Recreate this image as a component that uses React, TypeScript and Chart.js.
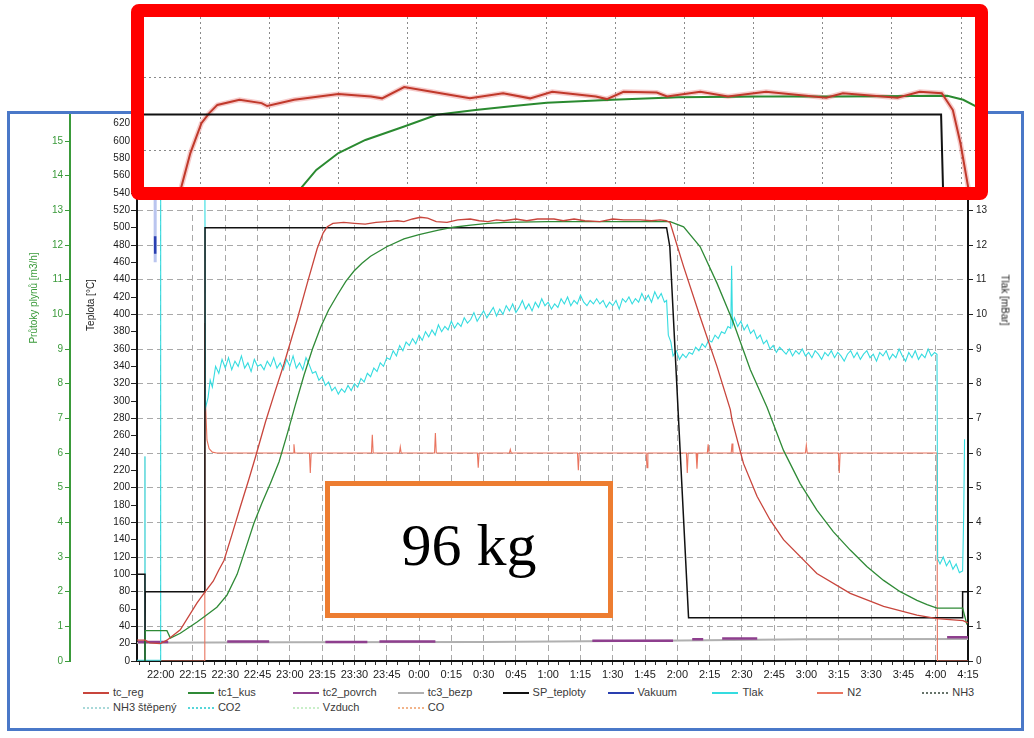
import { useEffect, useRef } from "react";
import Chart from "chart.js/auto";

// x values are minutes after 22:00
const timeLabels = [
  "22:00", "22:15", "22:30", "22:45", "23:00", "23:15", "23:30", "23:45",
  "0:00", "0:15", "0:30", "0:45", "1:00", "1:15", "1:30", "1:45",
  "2:00", "2:15", "2:30", "2:45", "3:00", "3:15", "3:30", "3:45", "4:00", "4:15",
];

const seriesNames = [
  "tc_reg", "tc1_kus", "tc2_povrch", "tc3_bezp", "SP_teploty", "Vakuum", "Tlak", "N2", "NH3",
  "NH3 štěpený", "CO2", "Vzduch", "CO",
];
const seriesColors = [
  "#c8453c", "#2f8a36", "#8e3f8e", "#b0b0b0", "#111111", "#2a3fb0", "#35dce0", "#e9745f", "#66736a",
  "#a9d9d9", "#56d6d9", "#c9efc9", "#f2b48a",
];
const legendDotted = [false, false, false, false, false, false, false, false, true, true, true, true, true];

// temperature series [min, °C]
const tcReg = [
  [-11, 24], [-7.2, 24], [-5, 21], [-0.2, 20], [2.9, 24], [9.1, 36], [16.9, 67], [20.7, 80],
  [24.4, 92], [27, 105], [29.4, 116], [33, 145], [37, 178], [41, 210], [44.1, 236], [48.7, 276],
  [53, 310], [57.3, 343], [63.4, 394], [68.1, 436], [72.7, 476], [75.5, 494], [77.4, 501], [80, 505],
  [85, 506], [90, 505], [95, 504], [100, 506], [105, 507], [110, 508], [113, 507], [117, 510],
  [120.6, 512], [124, 511], [128, 507], [133, 506], [138, 509], [143.8, 510], [148, 508], [152, 507],
  [156, 509], [159.5, 508], [165, 510], [170, 508], [175, 510], [182.7, 510], [187, 508], [192, 510],
  [197, 508], [204, 507], [210, 510], [215, 509], [222.8, 509], [228, 508], [232, 509], [234.8, 508],
  [236.6, 506], [242.9, 455], [250.6, 397], [258.4, 340], [264.6, 290], [265.4, 278], [270.7, 228], [277, 190],
  [283, 163], [289.3, 140], [304.8, 101], [320.3, 78], [335.8, 63], [351.3, 53], [360.6, 49], [372.7, 46.5], [375, 44],
];
const tc1Kus = [
  [-7.3, 0], [-7.2, 35], [2.9, 35], [4.5, 26.5], [9.1, 32], [16.9, 45], [20.7, 52], [26.1, 62],
  [30.8, 76], [35.5, 100], [39.5, 130], [43.3, 159], [47, 182], [51, 205], [55, 230], [58.8, 262],
  [62.5, 295], [66.6, 330], [70.5, 360], [74.3, 385], [78, 405], [82, 422], [86, 438], [89.8, 450],
  [93.5, 459], [97.5, 467], [105, 478], [113, 487], [120, 492], [128.5, 497], [136, 500.5], [144, 503],
  [152, 505], [160, 506], [180, 507], [236.6, 507], [242.9, 501], [250.6, 478], [258.4, 436], [266.1, 390],
  [273.9, 336], [281.6, 293], [289.3, 243], [297, 205], [304.8, 174], [312.5, 149], [320.3, 128], [328, 109],
  [335.8, 93], [343.5, 80], [351.3, 70], [356, 65], [360.6, 61], [372.5, 61], [374.5, 42],
];
const tc2Povrch = [
  [-10.5, 22], [3.5, 22], [3.6, null], [30.9, 22.5], [50.4, 22.5], [50.5, null], [76.5, 22], [96, 22],
  [96.1, null], [101.6, 22.5], [127.6, 22.5], [127.7, null], [200.5, 23.5], [238, 23.5], [238.1, null],
  [246.9, 25], [252, 25], [252.1, null], [260.8, 26], [277.1, 26], [277.2, null], [365.3, 27.5], [375, 27.5],
];
const tc3Bezp = [[-11, 21], [60, 21.5], [150, 22], [230, 23.5], [300, 25], [375, 25.5]];
const spTeploty = [
  [-11, 100], [-7.3, 100], [-7.3, 0], [-7.2, 80], [20.5, 80], [20.6, 500], [235, 500],
  [236.5, 478], [245.2, 50], [372.4, 50], [372.5, 80], [375, 80],
];
const n2 = [
  [-11, 0], [20.3, 0], [20.5, 390], [20.8, 300], [21.5, 255], [22.5, 245], [24, 241], [26, 240],
  [61.5, 240], [61.9, 250], [62.3, 240], [69.1, 240], [69.5, 217], [69.9, 240], [97.9, 240], [98.3, 261],
  [98.7, 240], [110.9, 240], [111.3, 247], [111.7, 240], [127.2, 240], [127.6, 263], [128, 240], [147.1, 240],
  [147.5, 223], [147.9, 240], [162, 240], [162.4, 244], [162.8, 240], [193.6, 240], [194, 220], [194.4, 240],
  [225.5, 240], [225.9, 223], [226.3, 240], [244.2, 240], [244.6, 217], [245, 240], [248.7, 240], [249.1, 222],
  [249.5, 240], [253.9, 240], [254.3, 250], [254.7, 240], [265, 240], [265.4, 251], [265.8, 240], [299.5, 240],
  [299.9, 249], [300.3, 240], [314.8, 240], [315.2, 217], [315.6, 240], [360.6, 240], [360.8, 0], [375, 0],
];

// pressure series [min, mbar]
const tlak = [
  [-11, 0.02], [-0.2, 0.02], [0, 17], [20.4, 17], [20.8, 7.3], [22, 7.6],
  [23, 8.1], [24, 7.9], [25.5, 8.5], [27, 8.3], [28.5, 8.7], [30, 8.45], [31.5, 8.75], [33, 8.4],
  [34.5, 8.65], [36, 8.5], [37.5, 8.8], [39, 8.45], [40.5, 8.6], [42, 8.35], [43.5, 8.7], [45, 8.5],
  [46.5, 8.55], [48, 8.4], [49.5, 8.65], [51, 8.5], [52.5, 8.75], [54, 8.45], [55.5, 8.6], [57, 8.4],
  [58.5, 8.7], [60, 8.5], [61.5, 8.8], [63, 8.45], [64.5, 8.6], [66, 8.4], [67.5, 8.75], [69, 8.55],
  [70.5, 8.3], [72, 8.35], [73.5, 8.1], [75, 8.2], [76.5, 7.95], [78, 8.05], [79.5, 7.8], [81, 7.9],
  [82.5, 7.7], [84, 7.85], [85.5, 7.75], [87, 7.95], [88.5, 7.8], [90, 8.0], [91.5, 7.9], [93, 8.15],
  [94.5, 8.05], [96, 8.3], [97.5, 8.2], [99, 8.45], [100.5, 8.35], [102, 8.6], [103.5, 8.5], [105, 8.75],
  [106.5, 8.7], [108, 8.95], [109.5, 8.8], [111, 9.1], [112.5, 8.95], [114, 9.2], [115.5, 9.1], [117, 9.3],
  [118.5, 9.15], [120, 9.4], [121.5, 9.25], [123, 9.5], [124.5, 9.35], [126, 9.55], [127.5, 9.4], [129, 9.7],
  [130.5, 9.5], [132, 9.65], [133.5, 9.55], [135, 9.8], [136.5, 9.6], [138, 9.75], [139.5, 9.65], [141, 9.9],
  [142.5, 9.75], [144, 9.85], [145.5, 10.05], [147, 9.8], [148.5, 9.95], [150, 10.1], [151.5, 9.9], [153, 10.05],
  [154.5, 10.2], [156, 9.95], [157.5, 10.15], [159, 10.0], [160.5, 10.25], [162, 10.1], [163.5, 10.3], [165, 10.05],
  [166.5, 10.2], [168, 10.4], [169.5, 10.15], [171, 10.3], [172.5, 10.1], [174, 10.35], [175.5, 10.2], [177, 10.45],
  [178.5, 10.25], [180, 10.35], [181.5, 10.15], [183, 10.3], [184.5, 10.2], [186, 10.45], [187.5, 10.3], [189, 10.5],
  [190.5, 10.25], [192, 10.4], [193.5, 10.3], [195, 10.55], [196.5, 10.35], [198, 10.25], [199.5, 10.4], [201, 10.3],
  [202.5, 10.45], [204, 10.3], [205.5, 10.4], [207, 10.2], [208.5, 10.35], [210, 10.25], [211.5, 10.4], [213, 10.15],
  [214.5, 10.45], [216, 10.35], [217.5, 10.5], [219, 10.3], [220.5, 10.45], [222, 10.35], [223.5, 10.6], [225, 10.4],
  [226.5, 10.55], [228, 10.35], [229.5, 10.65], [231, 10.45], [232.5, 10.6], [234, 10.35], [235, 10.4], [235.8, 9.4],
  [237, 9.2], [238, 8.8], [239.5, 8.95], [241, 8.7], [242.5, 8.85], [244, 8.75], [245.5, 8.9], [247, 8.85],
  [248.5, 9.05], [250, 8.95], [251.5, 9.15], [253, 9.05], [254.5, 9.25], [256, 9.2], [257.5, 9.4], [259, 9.3],
  [260.5, 9.5], [262, 9.45], [263.5, 9.65], [264.8, 9.6], [265.2, 11.4], [265.6, 9.7], [266.5, 9.9], [268, 9.65],
  [269.5, 9.8], [271, 9.55], [272.5, 9.7], [274, 9.45], [275.5, 9.55], [277, 9.3], [278.5, 9.4], [280, 9.15],
  [281.5, 9.25], [283, 9.0], [284.5, 9.1], [286, 8.9], [287.5, 9.05], [289, 8.95], [290.5, 8.85], [292, 9.0],
  [293.5, 8.8], [295, 8.95], [296.5, 8.85], [298, 9.0], [299.5, 8.8], [301, 8.9], [302.5, 8.75], [304, 8.95],
  [305.5, 8.85], [307, 8.7], [308.5, 8.9], [310, 8.8], [311.5, 8.95], [313, 8.75], [314.5, 8.9], [316, 8.8],
  [317.5, 8.65], [319, 8.85], [320.5, 8.95], [322, 8.75], [323.5, 8.9], [325, 8.7], [326.5, 8.85], [328, 8.95],
  [329.5, 8.75], [331, 8.85], [332.5, 8.65], [334, 8.9], [335.5, 8.8], [337, 8.95], [338.5, 8.7], [340, 8.85],
  [341.5, 8.75], [343, 9.0], [344.5, 8.8], [346, 8.65], [347.5, 8.9], [349, 8.75], [350.5, 8.95], [352, 8.7],
  [353.5, 8.85], [355, 8.75], [356.5, 9.0], [358, 8.8], [359.5, 8.9], [360.6, 8.85], [360.9, 2.95], [362, 2.8],
  [363.5, 3.0], [365, 2.75], [366.5, 2.9], [368, 2.65], [369.5, 2.8], [371, 2.55], [372.5, 2.6], [373, 4.2], [373.4, 6.4],
];
const co2 = [[-7.35, 0], [-7.3, 5.9], [-7.25, 0]];
const vakuum = [[-2.6, 12.25], [-2.55, 11.75]];
const vakuumTrail = [[-2.6, 17], [-2.55, 11.5]];

// zoomed inset: x in grid columns, y in °C
const insetReg = [
  [-0.3, 478], [-0.14, 489.4], [0.02, 497.6], [0.13, 500.3], [0.25, 502.6], [0.57, 504], [0.89, 503.1],
  [0.97, 502.3], [1.36, 504], [2.0, 505.6], [2.47, 504.9], [2.63, 504.4], [2.95, 507.5], [3.35, 506.2],
  [3.9, 504.4], [4.38, 505.8], [4.77, 504.4], [5.09, 506.2], [5.72, 504.9], [5.88, 504.2], [6.12, 506.2],
  [6.6, 506], [6.75, 504.9], [7.23, 506.2], [7.63, 504.9], [8.18, 506.2], [9.05, 504.6], [9.29, 505.8],
  [10.08, 504.6], [10.4, 506.2], [10.72, 505.8], [10.88, 501.2], [10.99, 492.1], [11.12, 478],
];
const insetKus = [
  [1.38, 478], [1.68, 484.8], [2.0, 489.4], [2.39, 493], [2.95, 496.7], [3.42, 499.9], [3.98, 501.2],
  [4.53, 502.3], [5.01, 503.2], [5.96, 504], [6.91, 504.7], [8.1, 504.9], [9.29, 504.9], [10.8, 505.1],
  [11.03, 504], [11.4, 500.4],
];
const insetSp = [[-0.9, 500], [10.71, 500], [10.74, 478]];
const insetYTicks = [490, 510];

const FONT = "'Liberation Sans Narrow', 'Liberation Sans', Arial, sans-serif";
const GREEN = "#3a9a3a";
const GRID = "#a9a9a9";

const pts = (a: any[]) => a.map(([x, y]) => ({ x, y }));
const line = (data: any[], color: string, width: number, axis: string) => ({
  data: pts(data),
  borderColor: color,
  borderWidth: width,
  yAxisID: axis,
  pointRadius: 0,
  tension: 0,
  spanGaps: false,
});
const noPad = (s: any) => {
  s.paddingTop = 0;
  s.paddingBottom = 0;
  s.paddingLeft = 0;
  s.paddingRight = 0;
};

const MainChart = () => {
  const ref = useRef<HTMLCanvasElement>(null);

  useEffect(() => {
    const tickFont = { family: FONT, size: 10 };
    const chart = new Chart(ref.current!, {
      type: "line",
      data: {
        datasets: [
          line(tcReg, seriesColors[0], 1.3, "yT"),
          line(tc1Kus, seriesColors[1], 1.3, "yT"),
          line(spTeploty, seriesColors[4], 1.5, "yT"),
          line(tlak, seriesColors[6], 1.1, "yP"),
          line(vakuum, seriesColors[5], 2.5, "yP"),
          line(vakuumTrail, "rgba(130,150,225,0.55)", 3, "yP"),
          line(co2, seriesColors[10], 1, "yP"),
          line(n2, seriesColors[7], 1.1, "yT"),
          line(tc2Povrch, seriesColors[2], 2.5, "yT"),
          line(tc3Bezp, seriesColors[3], 2, "yT"),
        ] as any,
      },
      options: {
        animation: false,
        responsive: true,
        maintainAspectRatio: false,
        layout: { padding: { top: 1, left: 0, right: 0, bottom: 0 } },
        plugins: { legend: { display: false }, tooltip: { enabled: false } },
        scales: {
          x: {
            type: "linear",
            min: -11,
            max: 375,
            ticks: {
              stepSize: 5,
              autoSkip: false,
              maxRotation: 0,
              includeBounds: false,
              padding: 3,
              color: "#222",
              font: { family: FONT, size: 11 },
              callback: (v: any) => (v % 15 === 0 && v >= 0 ? timeLabels[v / 15] : ""),
            },
            grid: {
              color: (c: any) => (c.tick && c.tick.value % 15 === 0 ? GRID : "rgba(0,0,0,0)"),
              tickColor: "#333",
              tickLength: 4,
            },
            border: { color: "#111", width: 2, dash: [6, 4] },
            afterFit: (s: any) => {
              s.height = 21;
              noPad(s);
            },
          },
          yP: {
            position: "right",
            min: 0,
            max: 15.75,
            ticks: { stepSize: 1, includeBounds: false, autoSkip: false, padding: 3, color: "#222", font: tickFont },
            grid: { color: GRID, tickColor: "#222", tickLength: 5 },
            border: { color: "#111", width: 2, dash: [6, 4] },
            afterFit: (s: any) => {
              s.width = 53;
              noPad(s);
            },
          },
          yF: {
            position: "left",
            weight: 1,
            min: 0,
            max: 15.75,
            ticks: { stepSize: 1, includeBounds: false, autoSkip: false, padding: 2, color: GREEN, font: tickFont },
            grid: { drawOnChartArea: false, color: GREEN, tickLength: 5 },
            border: { color: GREEN, width: 2 },
            afterFit: (s: any) => {
              s.width = 60;
              noPad(s);
            },
          },
          yT: {
            position: "left",
            weight: 0,
            min: 0,
            max: 630,
            ticks: { stepSize: 20, includeBounds: false, autoSkip: false, padding: 1, color: "#1a1a1a", font: tickFont },
            grid: { drawOnChartArea: false, color: "#222", tickLength: 6 },
            border: { color: "#111", width: 2 },
            afterFit: (s: any) => {
              s.width = 67;
              noPad(s);
            },
          },
        } as any,
      },
    });
    return () => chart.destroy();
  }, []);

  return <canvas ref={ref} />;
};

const InsetChart = () => {
  const ref = useRef<HTMLCanvasElement>(null);

  useEffect(() => {
    const chart = new Chart(ref.current!, {
      type: "line",
      data: {
        datasets: [
          line(insetSp, "#111", 2, "y"),
          line(insetReg, "#c0392b", 2, "y"),
          line(insetKus, "#2a8a30", 2, "y"),
          line(insetReg, "rgba(235,140,140,0.45)", 5, "y"),
        ] as any,
      },
      options: {
        animation: false,
        responsive: true,
        maintainAspectRatio: false,
        layout: { padding: 0 },
        plugins: { legend: { display: false }, tooltip: { enabled: false } },
        scales: {
          x: {
            type: "linear",
            min: -0.81,
            max: 11.2,
            ticks: { display: false, stepSize: 1, includeBounds: false },
            grid: { color: "#8a8a8a", drawTicks: false, lineWidth: 1 },
            border: { display: false, dash: [2, 3] },
            afterFit: (s: any) => {
              s.height = 0;
              noPad(s);
            },
          },
          y: {
            min: 480.1,
            max: 526.7,
            ticks: { display: false },
            afterBuildTicks: (s: any) => {
              s.ticks = insetYTicks.map((v) => ({ value: v }));
            },
            grid: { color: "#8a8a8a", drawTicks: false, lineWidth: 1 },
            border: { display: false, dash: [2, 3] },
            afterFit: (s: any) => {
              s.width = 0;
              noPad(s);
            },
          },
        } as any,
      },
    });
    return () => chart.destroy();
  }, []);

  return <canvas ref={ref} />;
};

const Rotated = ({ x, y, angle, color, children }: any) => (
  <div
    style={{
      position: "absolute",
      left: x,
      top: y,
      transform: `translate(-50%, -50%) rotate(${angle}deg)`,
      whiteSpace: "nowrap",
      fontFamily: FONT,
      fontSize: 10,
      color,
    }}
  >
    {children}
  </div>
);

const App = () => {
  return (
    <div
      style={{
        position: "fixed",
        left: 0,
        top: 0,
        width: 1034,
        height: 738,
        background: "#fff",
        overflow: "hidden",
      }}
    >
      <div
        style={{
          position: "absolute",
          left: 7,
          top: 111,
          width: 1017,
          height: 620,
          border: "3px solid #4a78c8",
          boxSizing: "border-box",
        }}
      />
      <div style={{ position: "absolute", left: 10, top: 114, width: 1011, height: 568 }}>
        <MainChart />
      </div>

      <Rotated x={33} y={298} angle={-90} color={GREEN}>
        Průtoky plynů [m3/h]
      </Rotated>
      <Rotated x={90} y={305} angle={-90} color="#1a1a1a">
        Teplota [°C]
      </Rotated>
      <Rotated x={1005} y={300} angle={90} color="#1a1a1a">
        Tlak [mBar]
      </Rotated>

      {seriesNames.map((name, i) => {
        const col = i < 9 ? i : i - 9;
        const cy = i < 9 ? 693 : 708;
        const lx = 83 + col * 104.9;
        return (
          <div key={name}>
            <div
              style={{
                position: "absolute",
                left: lx,
                top: cy - 1,
                width: 26,
                borderTop: `2px ${legendDotted[i] ? "dotted" : "solid"} ${seriesColors[i]}`,
              }}
            />
            <div
              style={{
                position: "absolute",
                left: lx + 30,
                top: cy - 7,
                fontFamily: FONT,
                fontSize: 11,
                lineHeight: "13px",
                color: "#3a3a3a",
                whiteSpace: "nowrap",
              }}
            >
              {name}
            </div>
          </div>
        );
      })}

      <div
        style={{
          position: "absolute",
          left: 325,
          top: 481,
          width: 288,
          height: 137,
          border: "5px solid #ed7d31",
          boxSizing: "border-box",
          background: "#fff",
          display: "flex",
          alignItems: "center",
          justifyContent: "center",
        }}
      >
        <span
          style={{
            fontFamily: "'Liberation Serif', 'Times New Roman', serif",
            fontSize: 60,
            lineHeight: "60px",
            color: "#000",
            transform: "translateY(-5px)",
            display: "inline-block",
          }}
        >
          96 kg
        </span>
      </div>

      <div
        style={{
          position: "absolute",
          left: 131,
          top: 4,
          width: 857,
          height: 196,
          border: "13px solid #ff0000",
          borderRadius: 8,
          boxSizing: "border-box",
          background: "#fff",
        }}
      >
        <div style={{ position: "relative", width: "100%", height: "100%" }}>
          <InsetChart />
        </div>
      </div>
    </div>
  );
};

export default App;
